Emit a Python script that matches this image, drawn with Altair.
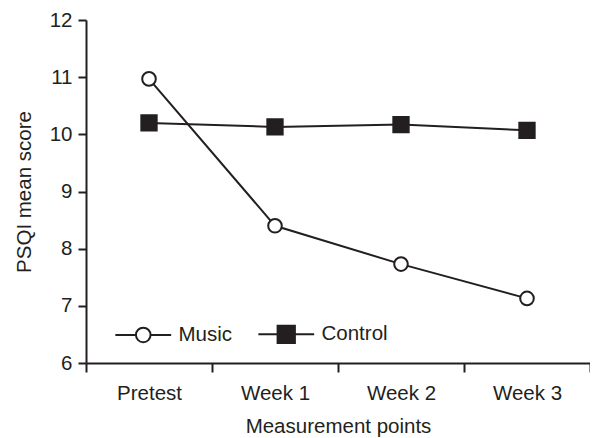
import altair as alt
import pandas as pd

categories = ["Pretest", "Week 1", "Week 2", "Week 3"]
music = [10.97, 8.40, 7.73, 7.13]
control = [10.20, 10.13, 10.17, 10.07]
groups = ["Music", "Control"]

rows = []
for g, vals in zip(groups, [music, control]):
    for c, v in zip(categories, vals):
        rows.append({"time": c, "score": v, "group": g})
df = pd.DataFrame(rows)

INK = "#231f20"
FONT = "Liberation Sans"
FS = 20.5

music_path = ("M-3.1,0H-0.81M0.81,0H3.1M0.81,0A0.81,0.81,0,1,1,-0.81,0"
              "A0.81,0.81,0,1,1,0.81,0Z")
control_path = "M-3.1,0H3.1M-0.96,-0.96H0.96V0.96H-0.96Z"

x = alt.X("time:N", sort=categories,
          scale=alt.Scale(paddingInner=0, paddingOuter=0),
          axis=alt.Axis(title="Measurement points", labelAngle=0, tickBand="extent",
                        tickSize=9, tickWidth=2, tickColor=INK, domainColor=INK,
                        domainWidth=2, labelPadding=11, labelFontSize=FS,
                        labelColor=INK, labelFont=FONT, titleFont=FONT,
                        titleFontSize=FS, titleFontWeight="normal", titleColor=INK,
                        titlePadding=13, grid=False))
y = alt.Y("score:Q", scale=alt.Scale(domain=[6, 12], nice=False, zero=False),
          axis=alt.Axis(title="PSQI mean score", values=[6, 7, 8, 9, 10, 11, 12],
                        tickSize=8, tickWidth=2, tickColor=INK, domainColor=INK,
                        domainWidth=2, labelPadding=6, labelFontSize=FS,
                        labelColor=INK, labelFont=FONT, titleFont=FONT,
                        titleFontSize=FS, titleFontWeight="normal", titleColor=INK,
                        titlePadding=15, grid=False))

base = alt.Chart(df).encode(x=x, y=y)

lines = base.mark_line(color=INK, strokeWidth=2).encode(detail="group:N")

points = base.mark_point(filled=False, strokeWidth=2, stroke=INK, opacity=1,
                         fillOpacity=1).encode(
    shape=alt.Shape("group:N", scale=alt.Scale(domain=groups, range=["circle", "square"]),
                    legend=None),
    fill=alt.Fill("group:N", scale=alt.Scale(domain=groups, range=["white", INK]),
                  legend=None),
    size=alt.Size("group:N", scale=alt.Scale(domain=groups, range=[185, 235]),
                  legend=None),
)

legend = alt.Legend(
    title=None, orient="none", legendX=47, legendY=304, direction="horizontal",
    padding=0, symbolSize=324, symbolStrokeColor=INK, symbolStrokeWidth=2,
    symbolOpacity=1, labelFontSize=FS, labelFont=FONT, labelColor=INK,
    labelOffset=25, columnPadding=21,
)

legend_layer = base.mark_point(opacity=0, strokeWidth=2).encode(
    shape=alt.Shape("group:N",
                    scale=alt.Scale(domain=groups, range=[music_path, control_path]),
                    legend=legend),
    fill=alt.Fill("group:N", scale=alt.Scale(domain=groups, range=["white", INK]),
                  legend=legend),
    stroke=alt.Stroke("group:N", scale=alt.Scale(domain=groups, range=[INK, INK]),
                      legend=legend),
)

chart = (lines + points + legend_layer).resolve_scale(
    shape="independent", fill="independent", stroke="independent", size="independent"
).properties(
    width=504, height=343,
    autosize=alt.AutoSizeParams(type="none"),
    padding={"left": 78, "top": 12, "right": 0, "bottom": 75},
).configure_view(stroke=None)

chart.save("out.html", embed_options={"renderer": "svg", "actions": False})
